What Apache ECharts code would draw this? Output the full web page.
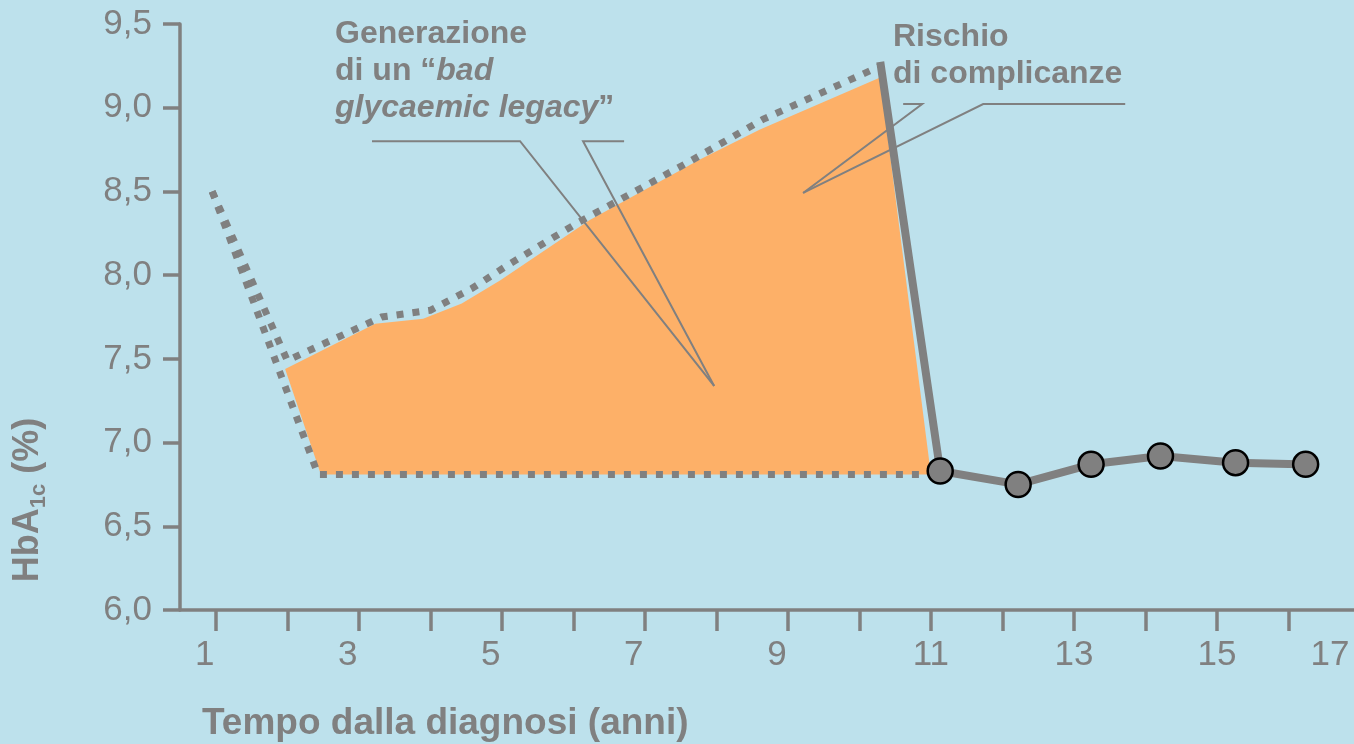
<!DOCTYPE html>
<html>
<head>
<meta charset="utf-8">
<script src="https://cdn.jsdelivr.net/npm/echarts@6/dist/echarts.min.js"></script>
<style>
  html, body { margin: 0; padding: 0; background: #bde1ec; }
  #chart { width: 1354px; height: 744px; }
</style>
</head>
<body>
<div id="chart"></div>
<script>
// Axis ticks and labels (years since diagnosis, HbA1c %)
const xTickValues = [1, 2, 3, 4, 5, 6, 7, 8, 9, 10, 11, 12, 13, 14, 15, 16, 17];
const xTickLabels = [1, 3, 5, 7, 9, 11, 13, 15, 17];
const yMin = 6.0;
const yMax = 9.5;
const yStep = 0.5;

// Drift of HbA1c while therapy is not intensified (dotted envelope)
const legacyUpper = [
  [0.95, 8.50], [2.00, 7.49], [3.32, 7.75], [4.00, 7.79], [4.58, 7.92],
  [5.12, 8.07], [6.09, 8.32], [7.59, 8.67], [8.65, 8.93], [9.63, 9.12], [10.30, 9.25]
];
// Target level that could have been reached from the start (dotted)
const legacyTarget = [[0.95, 8.50], [2.43, 6.81], [11.00, 6.81]];

// Excess glycaemic exposure ("bad glycaemic legacy")
const legacyArea = [
  [1.97, 7.44], [3.23, 7.71], [3.90, 7.74], [4.44, 7.83], [4.98, 7.97],
  [6.23, 8.33], [7.77, 8.69], [8.61, 8.87], [10.29, 9.18],
  [11.00, 6.81], [2.47, 6.81]
];

// Late intensification and follow-up measurements
const dropStart = [10.30, 9.25];
const followUp = [
  [11.13, 6.83], [12.22, 6.75], [13.24, 6.87], [14.21, 6.92], [15.26, 6.88], [16.24, 6.87]
];

// Leader lines for the two callouts
const leaderLegacyA = [[3.185, 8.80], [5.255, 8.80], [7.969, 7.338]];
const leaderLegacyB = [[6.71, 8.80], [6.136, 8.80], [7.969, 7.338]];
const leaderRiskA = [[10.612, 9.022], [10.878, 9.022], [9.213, 8.491]];
const leaderRiskB = [[13.717, 9.022], [11.731, 9.022], [9.213, 8.491]];

const GREY = '#808080';
const ORANGE = '#fdb068';
const FONT = '"Liberation Sans", Arial, Helvetica, sans-serif';

const chart = echarts.init(document.getElementById('chart'), null, { renderer: 'canvas' });

function dotted(data) {
  return {
    type: 'line', data, symbol: 'none', silent: true, z: 3,
    lineStyle: { color: GREY, width: 7, type: [7, 9], cap: 'butt', join: 'miter' }
  };
}
function leader(data) {
  return {
    type: 'line', data, symbol: 'none', silent: true, z: 4,
    lineStyle: { color: GREY, width: 2, type: 'solid', join: 'miter' }
  };
}

const option = {
  backgroundColor: '#bde1ec',
  animation: false,
  // the x axis runs on past the right edge so that year 17 sits just off-canvas
  grid: { left: 180, width: 1180, top: 24, bottom: 134, containLabel: false, outerBoundsMode: 'none' },
  xAxis: {
    type: 'value', min: 0.5, max: 17,
    axisLine: { show: true, lineStyle: { color: GREY, width: 3.5 } },
    axisTick: { show: true, length: 21, customValues: xTickValues, lineStyle: { color: GREY, width: 3.5 } },
    splitLine: { show: false },
    axisLabel: {
      customValues: xTickLabels,
      margin: 28,
      color: GREY, fontSize: 35, fontFamily: FONT,
      formatter: v => v < 10 ? `{l|${v}}` : (v >= 17 ? `{e|${v}}` : `{c|${v}}`),
      rich: {
        l: { color: GREY, fontSize: 35, fontFamily: FONT, padding: [0, 22, 0, 0] },
        c: { color: GREY, fontSize: 35, fontFamily: FONT },
        e: { color: GREY, fontSize: 35, fontFamily: FONT, padding: [0, 60, 0, 0] }
      }
    }
  },
  yAxis: {
    type: 'value', min: yMin, max: yMax, interval: yStep,
    axisLine: { show: true, lineStyle: { color: GREY, width: 3.5 } },
    axisTick: { show: true, length: 17, lineStyle: { color: GREY, width: 3.5 } },
    splitLine: { show: false },
    axisLabel: {
      margin: 28, color: GREY, fontSize: 35, fontFamily: FONT,
      formatter: v => v.toFixed(1).replace('.', ',')
    }
  },
  series: [
    {
      type: 'custom', silent: true, z: 2, clip: false,
      data: [legacyArea[0]],
      renderItem: (params, api) => ({
        type: 'polygon',
        shape: { points: legacyArea.map(p => api.coord(p)) },
        style: { fill: ORANGE }
      })
    },
    dotted(legacyUpper),
    dotted(legacyTarget),
    leader(leaderLegacyA),
    leader(leaderLegacyB),
    leader(leaderRiskA),
    leader(leaderRiskB),
    {
      type: 'line', silent: true, z: 5,
      data: [{ value: dropStart, symbol: 'none' }].concat(followUp),
      symbol: 'circle', symbolSize: 25, showSymbol: true,
      lineStyle: { color: GREY, width: 8, cap: 'square', join: 'round' },
      itemStyle: { color: GREY, borderColor: '#000', borderWidth: 2.5 }
    }
  ],
  graphic: [
    {
      type: 'text', x: 202, y: 724, silent: true,
      style: { text: 'Tempo dalla diagnosi (anni)', fill: GREY, fontSize: 37, fontWeight: 'bold',
               fontFamily: FONT, align: 'left', verticalAlign: 'middle' }
    },
    {
      type: 'text', x: 28, y: 500, rotation: Math.PI / 2, silent: true,
      style: {
        text: '{m|HbA}{s|1c}{m| (%)}', align: 'center', verticalAlign: 'middle',
        rich: {
          m: { fill: GREY, fontSize: 36, fontWeight: 'bold', fontFamily: FONT, lineHeight: 44 },
          s: { fill: GREY, fontSize: 22, fontWeight: 'bold', fontFamily: FONT, lineHeight: 44,
               verticalAlign: 'bottom' }
        }
      }
    },
    {
      type: 'text', x: 335, y: 34, silent: true,
      style: { text: 'Generazione', fill: GREY, fontSize: 32, fontWeight: 'bold', fontFamily: FONT,
               align: 'left', verticalAlign: 'middle' }
    },
    {
      type: 'text', x: 335, y: 71.5, silent: true,
      style: {
        text: '{n|di un \u201C}{i|bad}', align: 'left', verticalAlign: 'middle',
        rich: {
          n: { fill: GREY, fontSize: 32, fontWeight: 'bold', fontFamily: FONT },
          i: { fill: GREY, fontSize: 32, fontWeight: 'bold', fontStyle: 'italic', fontFamily: FONT }
        }
      }
    },
    {
      type: 'text', x: 335, y: 108, silent: true,
      style: {
        text: '{i|glycaemic legacy}{n|\u201D}', align: 'left', verticalAlign: 'middle',
        rich: {
          n: { fill: GREY, fontSize: 32, fontWeight: 'bold', fontFamily: FONT },
          i: { fill: GREY, fontSize: 32, fontWeight: 'bold', fontStyle: 'italic', fontFamily: FONT }
        }
      }
    },
    {
      type: 'text', x: 893, y: 37, silent: true,
      style: { text: 'Rischio', fill: GREY, fontSize: 32, fontWeight: 'bold', fontFamily: FONT,
               align: 'left', verticalAlign: 'middle' }
    },
    {
      type: 'text', x: 893, y: 74, silent: true,
      style: { text: 'di complicanze', fill: GREY, fontSize: 32, fontWeight: 'bold', fontFamily: FONT,
               align: 'left', verticalAlign: 'middle' }
    }
  ]
};

chart.setOption(option);
</script>
</body>
</html>
